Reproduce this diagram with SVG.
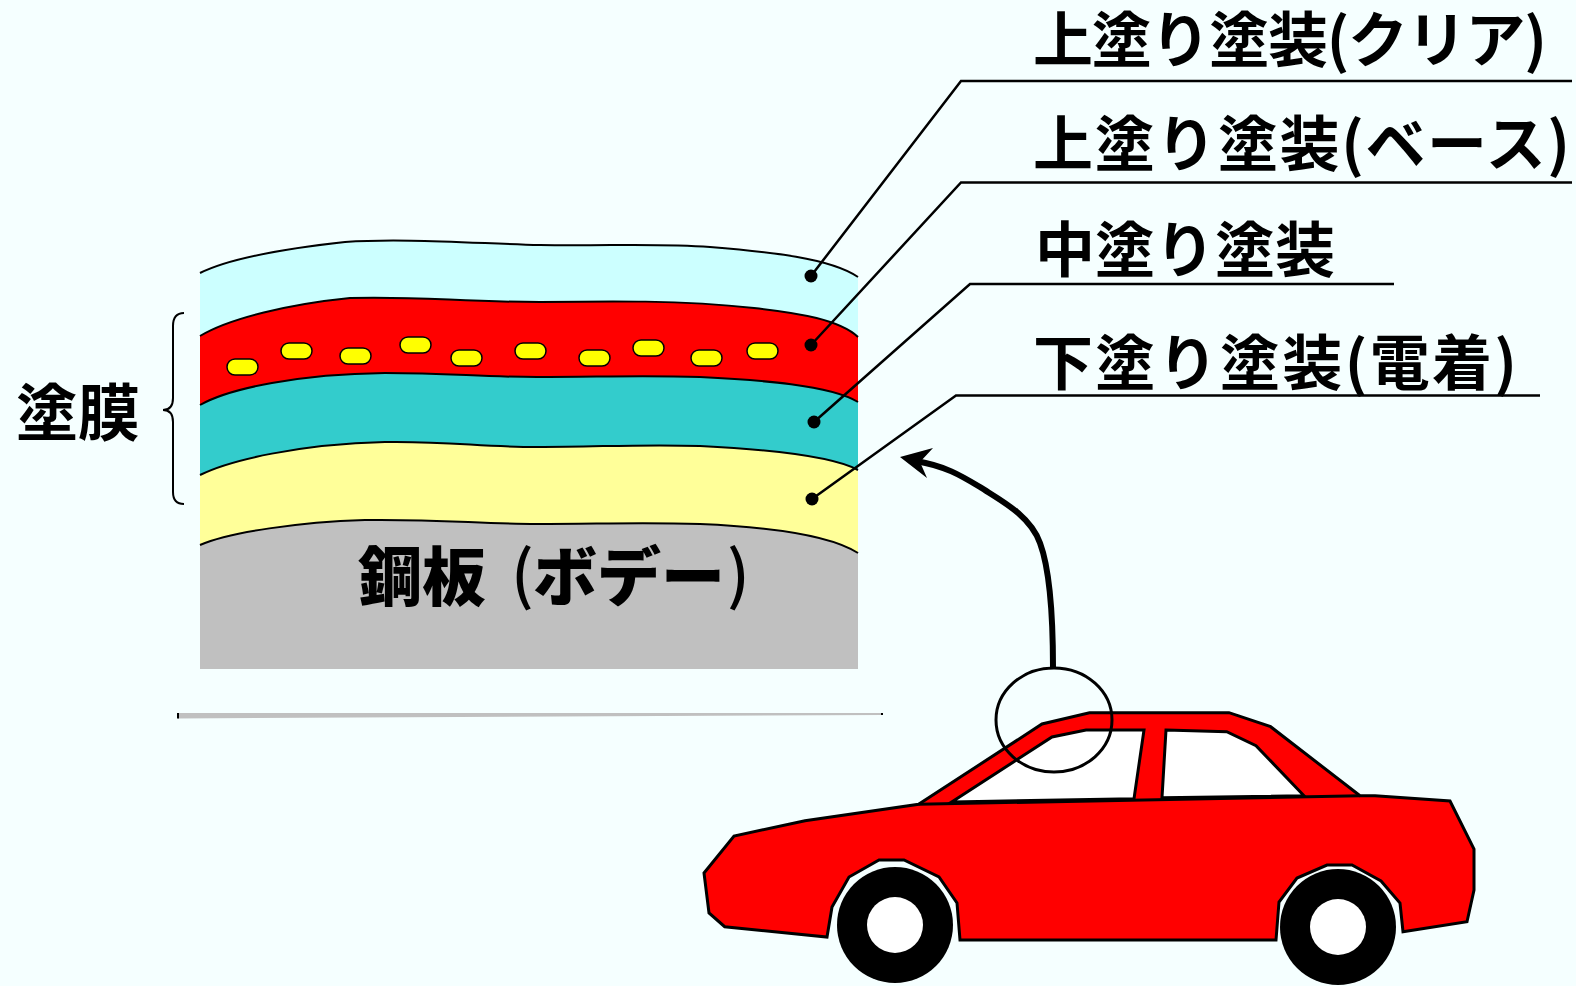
<svg xmlns="http://www.w3.org/2000/svg" width="1576" height="986" viewBox="0 0 1576 986">
  <style>
    .jp { font-family: "Noto Sans CJK JP", "Noto Sans", sans-serif; fill: #000; }
    .lbl { font-size: 60px; font-weight: 700; }
    .edge { fill: none; stroke: #000; stroke-width: 2; }
    .lead { fill: none; stroke: #000; stroke-width: 2.5; }
    .dot { fill: #000; }
    .pill { fill: #FFFF00; stroke: #000; stroke-width: 1.5; }
    .car { stroke: #000; stroke-width: 3; stroke-linejoin: miter; }
  </style>

  <rect width="1576" height="986" fill="#F5FFFF"/>

  <!-- paint layer cross-section -->
  <g id="layers">
    <path fill="#CCFFFF" d="M200,273 C230,258 290,248 345,242 C400,238 470,243 540,245 C610,246 660,243 710,247 C770,252 830,258 858,277 L858,669 L200,669 Z"/>
    <path fill="#FF0000" d="M200,336 C230,318 290,304 350,298 C420,296 460,302 540,302 C610,301 680,300 754,308 C800,313 840,320 858,337 L858,669 L200,669 Z"/>
    <path fill="#33CCCC" d="M200,405 C230,388 300,374 385,373 C450,373 480,377 537,377 C600,377 640,375 700,377 C760,380 830,385 858,402 L858,669 L200,669 Z"/>
    <path fill="#FFFF99" d="M200,475 C230,460 300,444 385,442 C450,441 480,447 537,447 C600,447 640,444 700,446 C760,449 830,455 858,470 L858,669 L200,669 Z"/>
    <path fill="#C0C0C0" d="M200,545 C230,532 300,522 365,520 C440,519 480,524 537,524 C600,524 640,522 700,524 C770,527 830,535 858,553 L858,669 L200,669 Z"/>

    <path class="edge" d="M200,273 C230,258 290,248 345,242 C400,238 470,243 540,245 C610,246 660,243 710,247 C770,252 830,258 858,277"/>
    <path class="edge" d="M200,336 C230,318 290,304 350,298 C420,296 460,302 540,302 C610,301 680,300 754,308 C800,313 840,320 858,337"/>
    <path class="edge" d="M200,405 C230,388 300,374 385,373 C450,373 480,377 537,377 C600,377 640,375 700,377 C760,380 830,385 858,402"/>
    <path class="edge" d="M200,475 C230,460 300,444 385,442 C450,441 480,447 537,447 C600,447 640,444 700,446 C760,449 830,455 858,470"/>
    <path class="edge" d="M200,545 C230,532 300,522 365,520 C440,519 480,524 537,524 C600,524 640,522 700,524 C770,527 830,535 858,553"/>

    <!-- metallic flakes in the base coat -->
    <g id="flakes">
      <rect class="pill" x="227" y="359" width="31" height="16" rx="8"/>
      <rect class="pill" x="281" y="343" width="31" height="16" rx="8"/>
      <rect class="pill" x="340" y="348" width="31" height="16" rx="8"/>
      <rect class="pill" x="400" y="337" width="31" height="16" rx="8"/>
      <rect class="pill" x="451" y="350" width="31" height="16" rx="8"/>
      <rect class="pill" x="515" y="343" width="31" height="16" rx="8"/>
      <rect class="pill" x="579" y="350" width="31" height="16" rx="8"/>
      <rect class="pill" x="633" y="340" width="31" height="16" rx="8"/>
      <rect class="pill" x="691" y="350" width="31" height="16" rx="8"/>
      <rect class="pill" x="747" y="343" width="31" height="16" rx="8"/>
    </g>

    <text class="jp" x="358" y="600" font-size="64" font-weight="900">鋼板<tspan x="511" y="598" font-weight="500">(</tspan><tspan x="533" y="600">ボデー</tspan><tspan x="727" y="598" font-weight="500">)</tspan></text>
  </g>

  <!-- separator -->
  <g id="baseline">
    <polygon points="178,713 883,713 883,715 178,718.5" fill="#C0C0C0"/>
    <rect x="177" y="713" width="2" height="5.5" fill="#000"/>
    <rect x="881" y="713" width="2" height="2" fill="#000"/>
  </g>

  <!-- film bracket -->
  <g id="film">
    <path class="edge" stroke-width="2.5" d="M184,313 Q173,313 173,326 L173,398 Q173,410 163,410 Q173,410 173,422 L173,492 Q173,504 184,504"/>
    <text class="jp" x="16" y="436" font-size="62" font-weight="700">塗膜</text>
  </g>

  <!-- layer labels -->
  <g id="label-clear"><text class="jp lbl" x="1033" y="62" textLength="514" lengthAdjust="spacing">上塗り塗装(クリア)</text></g>
  <g id="label-base"><text class="jp lbl" x="1033" y="166" textLength="537" lengthAdjust="spacing">上塗り塗装(ベース)</text></g>
  <g id="label-mid"><text class="jp lbl" x="1035" y="272">中塗り塗装</text></g>
  <g id="label-under"><text class="jp lbl" x="1033" y="385" textLength="484" lengthAdjust="spacing">下塗り塗装(電着)</text></g>

  <!-- car -->
  <g id="car">
    <polygon class="car" fill="#FF0000" points="918.6,804.3 1042,724 1089.5,712.7 1229,712.7 1270.6,726.7 1360,795.7 1375,795.7 1450,801 1474,849 1474,890 1467,921.7 1403,931.7 1400,903 1381,881 1352,865 1327,865 1297,878 1279,902 1276,940 960,940 957,903 939,877 904,860 879,860 849,877 832,907 827,937 724.7,926.7 709,913 704,873 734,836 805,820.7"/>
    <polygon class="car" fill="#FFFFFF" points="951.7,802 1052,737 1086,730 1144,730 1134,798.7"/>
    <polygon class="car" fill="#FFFFFF" points="1166,730 1226.7,731.7 1256,745.7 1304,795.7 1162,797.7"/>
    <path class="car" fill="none" d="M918.6,804.3 L1360,795.7"/>
    <circle cx="895" cy="925" r="58" fill="#000"/>
    <circle cx="895" cy="925" r="28" fill="#FFFFFF"/>
    <circle cx="1338" cy="927" r="58" fill="#000"/>
    <circle cx="1338" cy="927" r="28" fill="#FFFFFF"/>
  </g>

  <!-- connectors -->
  <g id="connectors">
    <circle class="dot" cx="811" cy="276" r="6.5"/>
    <circle class="dot" cx="811" cy="345" r="6.5"/>
    <circle class="dot" cx="814" cy="422" r="6.5"/>
    <circle class="dot" cx="812" cy="499" r="6.5"/>
    <polyline class="lead" points="811,276 961,81 1572,81"/>
    <polyline class="lead" points="811,345 961,182.5 1572,182.5"/>
    <polyline class="lead" points="814,422 970,284 1394,284"/>
    <polyline class="lead" points="812,499 956,395.5 1540,395.5"/>

    <ellipse cx="1054" cy="720" rx="58" ry="52" fill="none" stroke="#000" stroke-width="3"/>
    <path fill="none" stroke="#000" stroke-width="6" d="M1053,668 C1053,620 1050,570 1040,543 C1030,515 1000,500 980,487 C960,475 945,466 916,461"/>
    <polygon points="900,457 933,448 920,462 927,478" fill="#000"/>
  </g>
</svg>
